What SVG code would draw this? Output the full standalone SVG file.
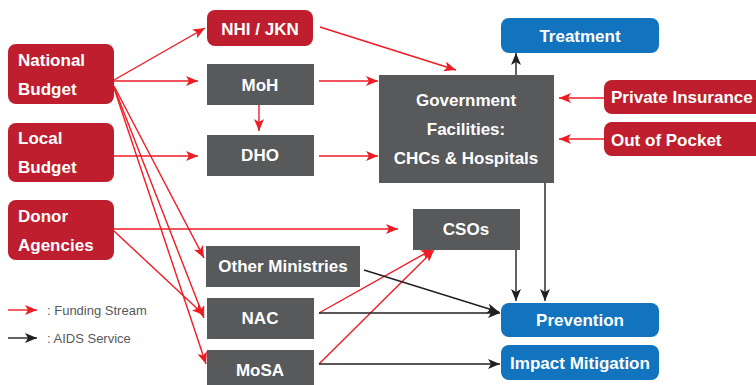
<svg xmlns="http://www.w3.org/2000/svg" width="756" height="385" viewBox="0 0 756 385">
<defs>
<style>
.red{fill:#BE1E2D}
.grey{fill:#58595B}
.blue{fill:#1273BE}
.t{font-family:"Liberation Sans",Arial,sans-serif;font-weight:bold;font-size:17px;fill:#fff}
.c{text-anchor:middle}
.rl{stroke:#ED1C24;stroke-width:1.4;fill:none;marker-end:url(#ra)}
.bl{stroke:#231F20;stroke-width:1.4;fill:none;marker-end:url(#ba)}
.lg{font-family:"Liberation Sans",Arial,sans-serif;font-size:13px;fill:#58595B}
</style>
<marker id="ra" markerUnits="userSpaceOnUse" markerWidth="14" markerHeight="10" refX="12" refY="5" orient="auto">
<path d="M0,0 L12,5 L0,10 L3,5 z" fill="#ED1C24"/>
</marker>
<marker id="ba" markerUnits="userSpaceOnUse" markerWidth="14" markerHeight="10" refX="12" refY="5" orient="auto">
<path d="M0,0 L12,5 L0,10 L3,5 z" fill="#231F20"/>
</marker>
</defs>
<rect width="756" height="385" fill="#fff"/>

<g id="connectors">
<line class="rl" x1="114" y1="80" x2="205" y2="28"/>
<line class="rl" x1="114" y1="81" x2="198" y2="81"/>
<line class="rl" x1="319" y1="81" x2="378" y2="81"/>
<line class="rl" x1="259" y1="105" x2="259" y2="131"/>
<line class="rl" x1="114" y1="156" x2="198" y2="156"/>
<line class="rl" x1="319" y1="156" x2="378" y2="156"/>
<line class="rl" x1="320" y1="27" x2="456" y2="70"/>
<line class="rl" x1="114" y1="86" x2="204" y2="258"/>
<line class="rl" x1="114" y1="87" x2="204" y2="318"/>
<line class="rl" x1="114" y1="88" x2="206" y2="364"/>
<line class="rl" x1="114" y1="229" x2="398" y2="229"/>
<line class="rl" x1="114" y1="231" x2="204" y2="315"/>
<line class="rl" x1="319" y1="313" x2="433" y2="249"/>
<line class="rl" x1="319" y1="364" x2="434" y2="250"/>
<line class="rl" x1="604" y1="98" x2="559" y2="98"/>
<line class="rl" x1="604" y1="139" x2="559" y2="139"/>
<line class="bl" x1="319" y1="313" x2="500" y2="313"/>
<line class="bl" x1="319" y1="364" x2="500" y2="364"/>
<line class="bl" x1="364" y1="270" x2="499" y2="312"/>
<line class="bl" x1="516" y1="250" x2="516" y2="301"/>
<line class="bl" x1="545" y1="183" x2="545" y2="301"/>
<line class="bl" x1="516" y1="75" x2="516" y2="53"/>
<line class="rl" x1="8" y1="310" x2="37" y2="310"/>
<line class="bl" x1="8" y1="338" x2="37" y2="338"/>
</g>

<g id="legend">
<text class="lg" x="47" y="315">: Funding Stream</text>
<text class="lg" x="47" y="343">: AIDS Service</text>
</g>

<g id="national-budget">
<rect class="red" x="8" y="44" width="106" height="60" rx="8"/>
<text class="t" x="18" y="66">National</text>
<text class="t" x="18" y="95">Budget</text>
</g>
<g id="local-budget">
<rect class="red" x="8" y="123" width="106" height="59" rx="8"/>
<text class="t" x="18" y="144">Local</text>
<text class="t" x="18" y="173">Budget</text>
</g>
<g id="donor-agencies">
<rect class="red" x="8" y="200" width="106" height="60" rx="8"/>
<text class="t" x="18" y="222">Donor</text>
<text class="t" x="18" y="251">Agencies</text>
</g>
<g id="nhi-jkn">
<rect class="red" x="207" y="10" width="106" height="36" rx="8"/>
<text class="t c" x="260" y="35">NHI / JKN</text>
</g>
<g id="moh">
<rect class="grey" x="207" y="64" width="107" height="41"/>
<text class="t c" x="260" y="91">MoH</text>
</g>
<g id="dho">
<rect class="grey" x="207" y="135" width="107" height="41"/>
<text class="t c" x="260" y="161">DHO</text>
</g>
<g id="government-facilities">
<rect class="grey" x="379" y="75" width="175" height="108"/>
<text class="t c" x="466" y="106">Government</text>
<text class="t c" x="466" y="135">Facilities:</text>
<text class="t c" x="466" y="164">CHCs &amp; Hospitals</text>
</g>
<g id="treatment">
<rect class="blue" x="501" y="18" width="158" height="35" rx="8"/>
<text class="t c" x="580" y="42">Treatment</text>
</g>
<g id="private-insurance">
<rect class="red" x="604" y="80" width="160" height="34" rx="8"/>
<text class="t" x="611" y="103">Private Insurance</text>
</g>
<g id="out-of-pocket">
<rect class="red" x="604" y="122" width="160" height="34" rx="8"/>
<text class="t" x="611" y="146">Out of Pocket</text>
</g>
<g id="csos">
<rect class="grey" x="413" y="209" width="107" height="41"/>
<text class="t c" x="466" y="235">CSOs</text>
</g>
<g id="other-ministries">
<rect class="grey" x="206" y="246" width="154" height="41"/>
<text class="t c" x="283" y="272">Other Ministries</text>
</g>
<g id="nac">
<rect class="grey" x="207" y="298" width="107" height="41"/>
<text class="t c" x="260" y="324">NAC</text>
</g>
<g id="mosa">
<rect class="grey" x="207" y="350" width="107" height="41"/>
<text class="t c" x="260" y="376">MoSA</text>
</g>
<g id="prevention">
<rect class="blue" x="501" y="303" width="158" height="34" rx="8"/>
<text class="t c" x="580" y="326">Prevention</text>
</g>
<g id="impact-mitigation">
<rect class="blue" x="501" y="345" width="158" height="35" rx="8"/>
<text class="t c" x="580" y="369">Impact Mitigation</text>
</g>
</svg>
